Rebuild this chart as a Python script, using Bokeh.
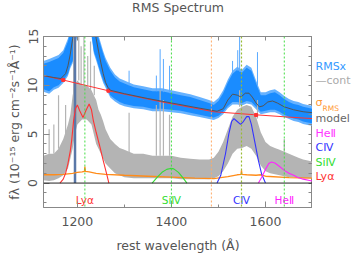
from bokeh.plotting import figure
from bokeh.layouts import row, column
from bokeh.models import Span, LinearAxis, FixedTicker, Range1d, ColumnDataSource
from bokeh.core.properties import value
from bokeh.embed import file_html
from bokeh.resources import INLINE

# ---------------- data ----------------
wave = [1128, 1140, 1150, 1160, 1170, 1180, 1185, 1190, 1195, 1200, 1210, 1220, 1230,
        1235, 1240, 1245, 1250, 1255, 1260, 1270, 1280, 1290, 1300, 1320, 1340, 1360,
        1380, 1400, 1420, 1440, 1460, 1480, 1490, 1500, 1510, 1520, 1530, 1540, 1550,
        1560, 1570, 1580, 1590, 1600, 1610, 1620, 1630, 1640, 1650, 1660, 1670, 1680,
        1690, 1700]
rmsx_lo = [9.6, 9.4, 9.8, 10.0, 10.5, 11.2, 12.0, 12.5, 14.0, 15.5, 15.5, 15.5, 15.3,
           13.5, 12.8, 12.0, 11.2, 10.5, 10.0, 9.0, 8.6, 8.3, 8.1, 7.9, 7.8, 7.6,
           7.6, 7.5, 7.4, 7.2, 7.0, 6.8, 6.7, 6.9, 7.3, 7.9, 8.3, 8.3, 8.2,
           8.4, 8.3, 7.8, 7.3, 7.4, 7.5, 7.5, 7.3, 7.0, 6.8, 6.6, 6.5, 6.3,
           6.2, 6.1]
rmsx_hi = [12.2, 12.4, 12.6, 12.8, 13.3, 14.5, 15.5, 16.0, 16.5, 17.0, 17.0, 17.0, 17.0,
           16.0, 15.5, 14.8, 14.0, 13.2, 12.5, 11.5, 10.8, 10.4, 10.2, 9.8, 9.6, 9.4,
           9.4, 9.2, 9.0, 8.8, 8.5, 8.2, 8.0, 8.4, 9.2, 10.3, 11.2, 11.6, 11.3,
           11.8, 11.5, 10.2, 9.0, 9.0, 9.2, 9.3, 9.0, 8.6, 8.3, 8.1, 8.0, 7.8,
           7.7, 7.6]
rms_lo = [0.3, 0.2, 0.3, 0.5, 0.8, 1.5, 2.5, 3.5, 5.0, 6.0, 6.5, 6.5, 6.0,
          5.0, 4.0, 3.5, 3.0, 2.5, 2.0, 1.5, 1.0, 0.8, 0.6, 0.5, 0.5, 0.5,
          0.5, 0.5, 0.4, 0.4, 0.4, 0.4, 0.5, 0.7, 1.2, 2.0, 3.0, 3.5, 3.6,
          3.8, 3.5, 2.8, 1.8, 1.2, 1.0, 0.9, 0.8, 0.7, 0.6, 0.6, 0.5, 0.5,
          0.5, 0.5]
rms_hi = [2.8, 3.0, 3.0, 3.5, 4.5, 6.0, 7.0, 9.0, 10.0, 10.5, 10.0, 10.0, 9.5,
          9.0, 8.5, 7.5, 7.0, 6.3, 5.5, 4.5, 4.0, 3.6, 3.4, 3.0, 3.0, 2.8,
          2.8, 2.8, 2.6, 2.5, 2.4, 2.4, 2.6, 3.2, 4.2, 5.5, 6.8, 7.5, 7.8,
          8.0, 7.8, 6.8, 5.2, 4.2, 3.8, 3.6, 3.4, 3.2, 3.0, 2.8, 2.6, 2.4,
          2.3, 2.2]

# narrow sky-line / noise spikes
bspike_w = [1310, 1368, 1376, 1383, 1396, 1530, 1541, 1545, 1583]
bspike_base = [10.0, 9.4, 9.4, 9.3, 9.2, 11.2, 11.5, 11.4, 10.0]
bspike_top = [11.5, 11.0, 13.7, 12.7, 12.0, 12.5, 13.6, 15.0, 13.4]
gspike_w = [1140, 1150, 1160, 1175, 1192, 1203, 1208, 1214, 1222, 1228, 1236,
            1310, 1368, 1376, 1383, 1396, 1545, 1583, 1640]
gspike_base = [3.0, 3.0, 3.5, 5.0, 9.0, 10.5, 10.0, 10.0, 10.0, 9.5, 9.0,
               3.1, 2.8, 2.8, 2.8, 2.8, 7.8, 6.6, 3.2]
gspike_top = [5.5, 6.0, 9.0, 8.0, 15.5, 15.0, 14.0, 15.5, 13.0, 14.5, 12.0,
              7.2, 8.0, 9.5, 8.5, 7.0, 9.5, 8.5, 4.5]

model_w = [1128, 1150, 1165, 1175, 1180, 1185, 1190, 1195, 1235, 1240, 1245, 1250, 1255,
           1260, 1265, 1270, 1300, 1350, 1400, 1450, 1497, 1510, 1520, 1530, 1540, 1548,
           1557, 1565, 1572, 1580, 1587, 1595, 1605, 1615, 1625, 1640, 1660, 1680, 1700]
model_v = [11.0, 10.8, 10.7, 11.2, 12.0, 13.2, 14.8, 16.5, 16.5, 14.8, 13.5, 12.3, 11.2,
           10.3, 9.8, 9.5, 9.15, 8.65, 8.2, 7.75, 7.35, 7.6, 8.5, 9.1, 9.0, 8.8,
           9.2, 9.2, 8.8, 8.2, 7.8, 7.9, 8.3, 8.4, 8.2, 7.8, 7.5, 7.3, 7.2]

cont_w = [1128, 1165, 1270, 1380, 1490, 1575, 1650, 1700]
cont_v = [11.0, 10.6, 9.4, 8.3, 7.3, 7.0, 6.75, 6.6]
win_w = [1170, 1266, 1580]
win_v = [10.55, 9.45, 6.97]

sig_w = [1128, 1150, 1170, 1190, 1200, 1210, 1215, 1216, 1217, 1225, 1240, 1260, 1300,
         1350, 1400, 1450, 1490, 1520, 1540, 1548, 1549, 1550, 1560, 1580, 1590, 1600,
         1650, 1700]
sig_v = [0.85, 0.85, 0.9, 1.0, 1.1, 1.15, 1.2, 1.7, 1.2, 1.15, 1.0, 0.9, 0.8,
         0.7, 0.6, 0.5, 0.45, 0.65, 0.85, 0.9, 1.3, 0.9, 0.85, 0.8, 0.85, 0.7,
         0.55, 0.5]

lya_w = [1163, 1170, 1175, 1180, 1185, 1188, 1192, 1196, 1200, 1205, 1212, 1218, 1225,
         1230, 1234, 1240, 1248, 1255, 1262, 1267]
lya_v = [0.0, 0.4, 1.0, 2.0, 3.3, 4.4, 6.4, 7.6, 8.0, 7.4, 6.7, 7.4, 8.1,
         7.5, 6.4, 5.2, 3.7, 2.3, 1.0, 0.0]
siiv_w = [1359, 1370, 1380, 1390, 1398, 1405, 1415, 1425, 1433]
siiv_v = [0.0, 0.6, 1.1, 1.4, 1.5, 1.45, 1.1, 0.5, 0.0]
civ_w = [1497, 1505, 1515, 1522, 1528, 1533, 1540, 1547, 1553, 1560, 1565, 1570, 1577,
         1585, 1592, 1600]
civ_v = [0.0, 0.8, 3.0, 5.0, 6.3, 6.6, 6.3, 6.0, 6.3, 6.8, 6.8, 6.0, 4.3,
         2.3, 0.9, 0.0]
heii_w = [1585, 1592, 1600, 1607, 1613, 1620, 1630, 1640, 1650, 1660, 1668, 1680, 1700]
heii_v = [0.0, 0.6, 1.4, 2.0, 2.15, 2.05, 1.7, 1.3, 1.0, 0.8, 0.6, 0.4, 0.2]

line_names = ["Lyα", "SiⅣ", "CⅣ", "HeⅡ"]
line_waves = [1216, 1400, 1549, 1640]
line_colors = ["#ff3333", "#33dd33", "#3333ff", "#ff22ff"]
green_marks = [1216, 1400, 1640]
orange_marks = [1485]
olive_marks = [1549]
absorb_w = [1195]

legend_texts = ["RMSx", "—cont", "σ", "RMS", "model", "HeⅡ", "CⅣ", "SiⅣ", "Lyα"]
legend_colors = ["#3399ff", "#aaaaaa", "#ff9933", "#ff9933", "#666666", "#ff33ff",
                 "#3333ff", "#33dd33", "#ff3333"]
legend_sizes = ["11px", "11px", "11px", "7.5px", "11px", "11px", "11px", "11px", "11px"]
title_text = ["RMS Spectrum"]

# ---------------- layout ----------------
FONT = "DejaVu Sans"
TOTAL_W, TOTAL_H = 354, 255
TITLE_H = 20
MAIN_W = 312
H = TOTAL_H - TITLE_H
FRAME_TOP, FRAME_BOT = 36, 207          # page rows of the plot frame
X0, X1 = 1128, 1700
Y0, Y1 = -2.5, 15

# title strip (page pixel coordinates)
t = figure(width=TOTAL_W, height=TITLE_H, x_range=Range1d(0, TOTAL_W), y_range=Range1d(TITLE_H, 0),
           output_backend="svg", toolbar_location=None, title=None,
           min_border_left=0, min_border_right=0, min_border_top=0, min_border_bottom=0)
t.axis.visible = False
t.grid.visible = False
t.outline_line_color = None
t.text(x=[177.5], y=[6.5], text=title_text, text_color="#555555", text_font=value(FONT),
       text_font_size="12.5px", text_align="center", text_baseline="middle")

p = figure(width=MAIN_W, height=H, x_range=Range1d(X0, X1), y_range=Range1d(Y0, Y1),
           output_backend="svg", toolbar_location=None, title=None,
           min_border_left=43, min_border_right=0, min_border_top=FRAME_TOP - TITLE_H,
           min_border_bottom=TOTAL_H - FRAME_BOT)
p.grid.visible = False
p.outline_line_color = "#888888"

xt = FixedTicker(ticks=[1200, 1400, 1600], minor_ticks=[1300, 1500, 1700])
yt = FixedTicker(ticks=[0, 5, 10, 15], minor_ticks=list(range(-2, 15)))
xt_top = FixedTicker(ticks=[], minor_ticks=[1200, 1300, 1400, 1500, 1600])
yt_right = FixedTicker(ticks=[], minor_ticks=list(range(-2, 15)))


def style_axis(ax):
    ax.axis_line_color = "#888888"
    ax.major_tick_line_color = "#888888"
    ax.minor_tick_line_color = "#888888"
    ax.major_tick_in = 6
    ax.major_tick_out = 0
    ax.minor_tick_in = 3
    ax.minor_tick_out = 0
    ax.major_label_text_font = FONT
    ax.major_label_text_font_size = "12.5px"
    ax.major_label_text_color = "#555555"
    ax.axis_label_text_font = FONT
    ax.axis_label_text_font_size = "12.5px"
    ax.axis_label_text_font_style = "normal"
    ax.axis_label_text_color = "#555555"


p.xaxis.ticker = xt
p.yaxis.ticker = yt
style_axis(p.xaxis[0])
style_axis(p.yaxis[0])
p.xaxis.major_label_standoff = 9
p.xaxis.axis_label = "rest wavelength (Å)"
p.xaxis.axis_label_standoff = 9
p.yaxis.major_label_standoff = 6
p.yaxis.major_label_orientation = "vertical"
p.yaxis.axis_label = "fλ (10⁻¹⁵ erg cm⁻²s⁻¹Å⁻¹)"
p.yaxis.axis_label_standoff = 4

top_ax = LinearAxis(ticker=xt_top)
right_ax = LinearAxis(ticker=yt_right)
for ax in (top_ax, right_ax):
    style_axis(ax)
    ax.minor_tick_in = 4
    ax.major_label_standoff = 0
p.add_layout(top_ax, "above")
p.add_layout(right_ax, "right")

# ---------------- marks ----------------
p.varea(x=wave, y1=[v - 0.25 for v in rmsx_lo], y2=[v + 0.3 for v in rmsx_hi], fill_color="#66b2ff")
p.varea(x=wave, y1=rmsx_lo, y2=rmsx_hi, fill_color="#1a8cff")
p.segment(x0=bspike_w, x1=bspike_w, y0=bspike_base, y1=bspike_top, line_color="#5aaaff", line_width=1)

p.varea(x=wave, y1=rms_lo, y2=rms_hi, fill_color="#b4b4b4")
p.segment(x0=gspike_w, x1=gspike_w, y0=gspike_base, y1=gspike_top, line_color="#b4b4b4", line_width=1.2)

for w in green_marks:
    p.add_layout(Span(location=w, dimension="height", line_color="#44dd44", line_dash="2 2", line_width=1))
for w in orange_marks:
    p.add_layout(Span(location=w, dimension="height", line_color="#ffaa66", line_dash="2 2", line_width=1))
for w in olive_marks:
    p.add_layout(Span(location=w, dimension="height", line_color="#99bb33", line_dash="2 2", line_width=1.2))
p.add_layout(Span(location=0, dimension="width", line_color="#222222", line_width=1))
p.segment(x0=absorb_w, x1=absorb_w, y0=[0], y1=[15], line_color="#5a78a8", line_width=2.5)

p.line(cont_w, cont_v, line_color="#ff3333", line_width=1)
p.scatter(win_w, win_v, marker="square", size=3, line_color="#ff3333", fill_color="#ff3333")
p.line(model_w, model_v, line_color="#555555", line_width=1)
p.line(sig_w, sig_v, line_color="#ff8c1a", line_width=1.3)

p.line(lya_w, lya_v, line_color="#ff3333", line_width=1.1)
p.line(siiv_w, siiv_v, line_color="#33dd33", line_width=1.1)
p.line(civ_w, civ_v, line_color="#3333ff", line_width=1.1)
p.line(heii_w, heii_v, line_color="#ff22ff", line_width=1.1)

lab_src = ColumnDataSource(dict(x=line_waves, y=[-1.7] * len(line_waves), t=line_names, c=line_colors))
p.text(x="x", y="y", text="t", text_color="c", source=lab_src, text_font=value(FONT),
       text_font_size="10.5px", text_align="center", text_baseline="middle")

# ---------------- legend column at the right (page pixel coordinates) ----------------
# the row layout aligns this frame with the main frame (page rows FRAME_TOP..FRAME_BOT)
LEG_W = TOTAL_W - MAIN_W
q = figure(width=LEG_W, height=H, x_range=Range1d(MAIN_W, TOTAL_W), y_range=Range1d(FRAME_BOT, FRAME_TOP),
           output_backend="svg", toolbar_location=None, title=None,
           min_border_left=0, min_border_right=0, min_border_top=FRAME_TOP - TITLE_H,
           min_border_bottom=TOTAL_H - FRAME_BOT)
q.axis.visible = False
q.grid.visible = False
q.outline_line_color = None
leg_x = [315, 315, 315, 322, 315, 315, 315, 315, 315]
leg_y = [66, 80, 102, 108, 118, 132.5, 147, 161.5, 176]
leg_src = ColumnDataSource(dict(x=leg_x, y=leg_y, t=legend_texts, c=legend_colors, s=legend_sizes))
q.text(x="x", y="y", text="t", text_color="c", text_font_size="s", source=leg_src,
       text_font=value(FONT), text_align="left", text_baseline="middle")

layout = column(t, row(p, q, spacing=0), spacing=0)
open("out.html", "w").write(file_html(layout, INLINE))
